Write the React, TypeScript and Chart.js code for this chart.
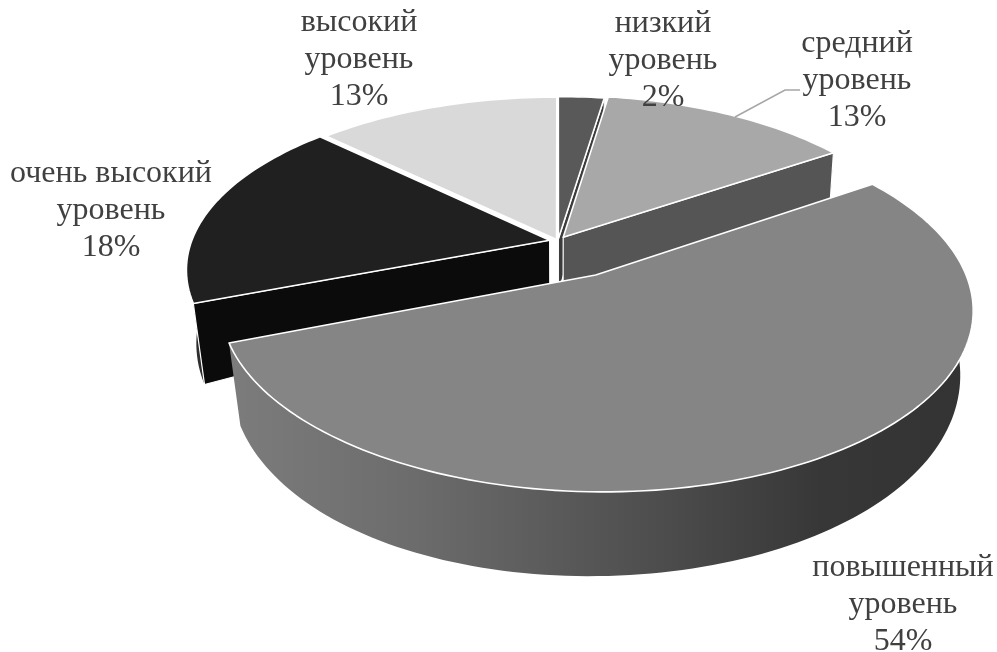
import React, { useEffect, useRef } from "react";
import { Chart, registerables } from "chart.js";

Chart.register(...registerables);

const categories = ["низкий уровень", "средний уровень", "повышенный уровень", "очень высокий уровень", "высокий уровень"];
const values = [2.4, 13.2, 53.6, 18, 12.8];
const topColors = ["#595959", "#a8a8a8", "#858585", "#202020", "#d9d9d9"];
const cutColors = ["#3c3c3c", "#555555", "#6a6a6a", "#0b0b0b", "#ffffff"];
const outerColors = ["#444444", "#666666", "#555555", "#2e2e2e", "#999999"];
const offsets = [4, 8, 65, 7, 3];
const paintOrder = [4, 0, 1, 3, 2];
const labelLines = [
  ["низкий", "уровень"],
  ["средний", "уровень"],
  ["повышенный", "уровень"],
  ["очень высокий", "уровень"],
  ["высокий", "уровень"],
];
const labelCenters = [663, 857, 903, 111, 359];
const labelBaselines = [32, 52, 576, 182, 31];

const CX = 558, CY = 241, RX = 358, RY = 167, K = 0.17, DEPTH = 54, SHRINK = 0.024;

type Pt = [number, number];

function project(X: number, Y: number, Z: number): Pt {
  const w = 1 + K * Y;
  const skew = 1 - 0.13 * X + 0.22 * X * X;
  const shrink = 1 + SHRINK * Z * Math.max(0, 1 - 0.9 * Y);
  return [CX + (RX * X) / (w * shrink), CY - (RY * Y) / w + (DEPTH * Z * skew) / (w * w)];
}

function tracePoly(ctx: CanvasRenderingContext2D, pts: Pt[]) {
  ctx.beginPath();
  pts.forEach((p, i) => (i ? ctx.lineTo(p[0], p[1]) : ctx.moveTo(p[0], p[1])));
  ctx.closePath();
}

// a cut face is seen only when the slice's top lies above its upper edge on screen
function faceVisible(a: Pt, b: Pt, inner: Pt) {
  const side = (p: Pt) => (b[0] - a[0]) * (p[1] - a[1]) - (b[1] - a[1]) * (p[0] - a[0]);
  return side(inner) * side([a[0], a[1] + 1]) < 0;
}

const pie3d = {
  id: "pie3d",
  beforeDatasetDraw(chart: any) {
    const ctx: CanvasRenderingContext2D = chart.ctx;
    const arcs = chart.getDatasetMeta(0).data;
    ctx.save();
    ctx.lineJoin = "round";
    for (const i of paintOrder) {
      const arc = arcs[i];
      const a0 = arc.startAngle + Math.PI / 2;
      const a1 = arc.endAngle + Math.PI / 2;
      const mid = (a0 + a1) / 2;
      const t = arc.options.offset / arc.outerRadius;
      const ox = t * Math.sin(mid);
      const oy = t * Math.cos(mid);
      const steps = Math.max(6, Math.ceil((a1 - a0) * 40));
      const rim = (z: number) => {
        const pts: Pt[] = [];
        for (let s = 0; s <= steps; s++) {
          const a = a0 + ((a1 - a0) * s) / steps;
          pts.push(project(ox + Math.sin(a), oy + Math.cos(a), z));
        }
        return pts;
      };
      const topRim = rim(0);
      const botRim = rim(1);
      const apexTop = project(ox, oy, 0);
      const apexBot = project(ox, oy, 1);
      const inner = project(ox + 0.5 * Math.sin(mid), oy + 0.5 * Math.cos(mid), 0);

      // outer wall
      let fill: any = outerColors[i];
      if (i === 2) {
        const g = ctx.createLinearGradient(230, 0, 970, 0);
        g.addColorStop(0, "#7c7c7c");
        g.addColorStop(0.25, "#6c6c6c");
        g.addColorStop(0.55, "#505050");
        g.addColorStop(0.8, "#373737");
        g.addColorStop(1, "#333333");
        fill = g;
      }
      tracePoly(ctx, [...topRim, ...botRim.slice().reverse()]);
      ctx.fillStyle = fill;
      ctx.fill();

      // cut faces
      ctx.fillStyle = cutColors[i];
      ctx.strokeStyle = "#ffffff";
      ctx.lineWidth = 1.2;
      for (const k of [0, steps]) {
        if (!faceVisible(apexTop, topRim[k], inner)) continue;
        tracePoly(ctx, [apexTop, topRim[k], botRim[k], apexBot]);
        ctx.fill();
        ctx.stroke();
      }

      // top face
      tracePoly(ctx, [apexTop, ...topRim]);
      ctx.fillStyle = topColors[i];
      ctx.fill();
      ctx.lineWidth = 1.6;
      ctx.stroke();
    }
    ctx.restore();
    return false;
  },
  afterDraw(chart: any) {
    const ctx: CanvasRenderingContext2D = chart.ctx;
    ctx.save();
    ctx.strokeStyle = "#a6a6a6";
    ctx.lineWidth = 1.5;
    ctx.beginPath();
    ctx.moveTo(735, 117);
    ctx.lineTo(785, 90);
    ctx.lineTo(800, 90);
    ctx.stroke();
    ctx.fillStyle = "#404040";
    ctx.font = '32px "Liberation Serif"';
    ctx.textAlign = "center";
    ctx.textBaseline = "alphabetic";
    labelLines.forEach((lines, i) => {
      const all = [...lines, `${Math.round(values[i])}%`];
      all.forEach((line, j) => ctx.fillText(line, labelCenters[i], labelBaselines[i] + j * 37));
    });
    ctx.restore();
  },
};

export default function App() {
  const ref = useRef<HTMLCanvasElement | null>(null);
  useEffect(() => {
    const chart = new Chart(ref.current as HTMLCanvasElement, {
      type: "pie",
      data: {
        labels: categories,
        datasets: [{ data: values, backgroundColor: topColors, borderWidth: 0, offset: offsets }],
      },
      options: {
        animation: false,
        responsive: false,
        devicePixelRatio: 1,
        plugins: { legend: { display: false }, tooltip: { enabled: false } },
      },
      plugins: [pie3d],
    } as any);
    return () => chart.destroy();
  }, []);
  return (
    <div style={{ position: "absolute", left: 0, top: 0, width: 997, height: 652, background: "#fff" }}>
      <canvas ref={ref} width={997} height={652} style={{ display: "block" }} />
    </div>
  );
}
